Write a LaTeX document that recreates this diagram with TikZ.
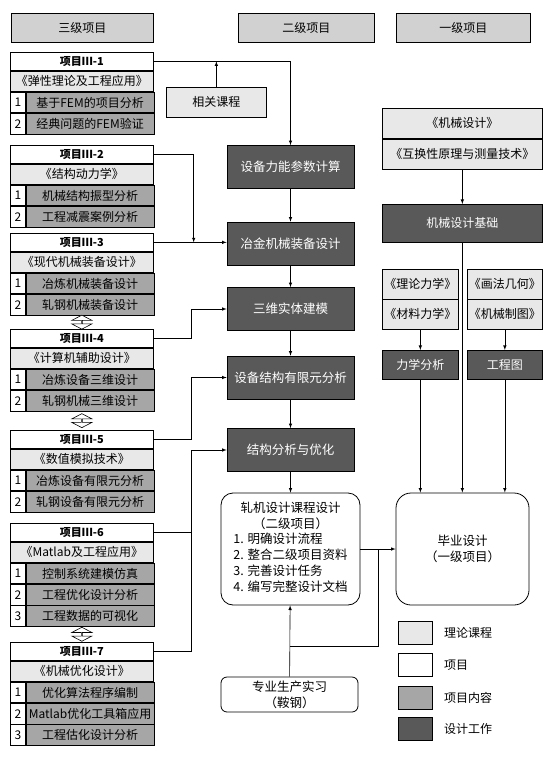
\documentclass[tikz,border=0pt]{standalone}
\usepackage{fontspec}
\setmainfont{Noto Sans CJK SC}
\usetikzlibrary{positioning,calc,shapes.arrows}

% one project block: title row and course row, then numbered rows
\newcommand{\projtop}[4]{%
  \node[ptitle] (#1t) at (10,#2) {#3};
  \node[course] (#1c) at (#1t.south west) {#4};}
\newcommand{\projrow}[4]{%
  \node[num] (#1n) at (#2.south west) {#3};
  \node[item] (#1) at (#1n.north east) {#4};}

\begin{document}
\begin{tikzpicture}[x=1pt, y=-1pt, font=\fontsize{12}{14}\selectfont,
  cell/.style={draw, line width=0.7pt, inner sep=1pt, anchor=north west},
  head/.style={cell, fill=black!18, minimum height=29pt},
  ptitle/.style={cell, fill=white, minimum width=143pt, minimum height=18pt, font=\fontsize{11}{12}\selectfont\bfseries},
  course/.style={cell, fill=black!9, minimum width=143pt, minimum height=20.5pt},
  num/.style={cell, fill=white, minimum width=15pt, minimum height=20.5pt},
  item/.style={cell, fill=black!35, minimum width=128pt, minimum height=20.5pt},
  lesson/.style={cell, fill=black!9, minimum height=29.5pt},
  work/.style={draw, line width=0.7pt, fill=black!65, text=white, minimum width=127pt, minimum height=43pt, font=\fontsize{12.5}{15}\selectfont},
  workr/.style={cell, fill=black!65, text=white},
  proj/.style={draw, line width=0.8pt, fill=white, align=center, font=\fontsize{12.5}{16}\selectfont},
  dbl/.style={double arrow, draw, fill=white, line width=0.6pt, shape border rotate=90, minimum height=14pt, minimum width=20pt,
    double arrow head extend=6pt, double arrow tip angle=125, inner sep=0pt},
  key/.style={cell, minimum width=34pt, minimum height=23pt},
  arr/.style={-latex, line width=0.6pt},
  ln/.style={line width=0.6pt}]
\useasboundingbox (0,0) rectangle (549,757);

% column heads
\node[head, minimum width=142pt] (h3) at (11,13) {三级项目};
\node[head, minimum width=136pt] (h2) at (238,13) {二级项目};
\node[head, minimum width=134pt] (h1) at (396,13) {一级项目};

% third level projects
\projtop{p1}{52}{项目Ⅲ-1}{《弹性理论及工程应用》}
\projrow{p1a}{p1c}{1}{基于FEM的项目分析}
\projrow{p1b}{p1an}{2}{经典问题的FEM验证}
\projtop{p2}{145}{项目Ⅲ-2}{《结构动力学》}
\projrow{p2a}{p2c}{1}{机械结构振型分析}
\projrow{p2b}{p2an}{2}{工程减震案例分析}
\projtop{p3}{233}{项目Ⅲ-3}{《现代机械装备设计》}
\projrow{p3a}{p3c}{1}{冶炼机械装备设计}
\projrow{p3b}{p3an}{2}{轧钢机械装备设计}
\projtop{p4}{329}{项目Ⅲ-4}{《计算机辅助设计》}
\projrow{p4a}{p4c}{1}{冶炼设备三维设计}
\projrow{p4b}{p4an}{2}{轧钢机械三维设计}
\projtop{p5}{430}{项目Ⅲ-5}{《数值模拟技术》}
\projrow{p5a}{p5c}{1}{冶炼设备有限元分析}
\projrow{p5b}{p5an}{2}{轧钢设备有限元分析}
\projtop{p6}{523}{项目Ⅲ-6}{《Matlab及工程应用》}
\projrow{p6a}{p6c}{1}{控制系统建模仿真}
\projrow{p6b}{p6an}{2}{工程优化设计分析}
\projrow{p6c}{p6bn}{3}{工程数据的可视化}
\projtop{p7}{642}{项目Ⅲ-7}{《机械优化设计》}
\projrow{p7a}{p7c}{1}{优化算法程序编制}
\projrow{p7b}{p7an}{2}{Matlab优化工具箱应用}
\projrow{p7c}{p7bn}{3}{工程估化设计分析}

\node[dbl] (d34) at ($(p3bn.south -| p3t.south)!0.5!(p4t.north)$) {};
\node[dbl] (d45) at ($(p4bn.south -| p4t.south)!0.5!(p5t.north)$) {};
\node[dbl] (d67) at ($(p6cn.south -| p6t.south)!0.5!(p7t.north)$) {};

% second level
\node[cell, fill=black!9, minimum width=100pt, minimum height=30pt] (rel) at (166,87) {相关课程};
\node[work] (w1) at (290.5,167) {设备力能参数计算};
\node[work] (w2) at (290.5,243.5) {冶金机械装备设计};
\node[work] (w3) at (290.5,309) {三维实体建模};
\node[work] (w4) at (290.5,377.5) {设备结构有限元分析};
\node[work] (w5) at (290.5,450) {结构分析与优化};
\node[proj, rounded corners=12pt, minimum width=139pt, minimum height=112pt] (zj) at (290.5,549)
  {轧机设计课程设计\\（二级项目）\\[2pt]
   \begin{tabular}{@{}l@{}}1. 明确设计流程\\2. 整合二级项目资料\\3. 完善设计任务\\4. 编写完整设计文档\end{tabular}};
\node[proj, rounded corners=6pt, minimum width=137pt, minimum height=35pt] (sx) at (289.5,694.5) {专业生产实习\\（鞍钢）};

% first level
\node[lesson, minimum width=160pt, minimum height=30pt] (c1) at (382,108) {《机械设计》};
\node[lesson, minimum width=160pt, minimum height=30pt] (c2) at (c1.south west) {《互换性原理与测量技术》};
\node[workr, minimum width=160pt, minimum height=38pt] (jc) at (382,204) {机械设计基础};
\node[lesson, minimum width=76pt] (c3) at (382,269) {《理论力学》};
\node[lesson, minimum width=76pt] (c4) at (c3.south west) {《材料力学》};
\node[lesson, minimum width=75pt] (c5) at (467,269) {《画法几何》};
\node[lesson, minimum width=75pt] (c6) at (c5.south west) {《机械制图》};
\node[workr, minimum width=76pt, minimum height=29pt] (lx) at (382,350) {力学分析};
\node[workr, minimum width=75pt, minimum height=29pt] (gc) at (467,350) {工程图};
\node[proj, rounded corners=15pt, minimum width=133pt, minimum height=112pt] (bs) at (462.5,549) {毕业设计\\（一级项目）};

% legend
\node[key, fill=black!9] (k1) at (398,621) {};
\node[key, fill=white] (k2) at (398,653) {};
\node[key, fill=black!35] (k3) at (398,686) {};
\node[key, fill=black!65] (k4) at (398,717) {};
\node[right=8pt of k1] (t1) {理论课程};
\node[right=8pt of k2] (t2) {项目};
\node[right=8pt of k3] (t3) {项目内容};
\node[right=8pt of k4] (t4) {设计工作};

% connectors
\draw[arr] (p1t.east) -| (w1.north);
\draw[arr] (rel.north) -- (rel.north |- p1t.east);
\coordinate (j3) at ($(p3t.east)+(40,0)$);
\draw[arr] (p2t.east) -| (j3);
\draw[arr] (p3t.east) -- (p3t.east -| w2.west);
\draw[arr] (p4t.east) -- ++(38,0) |- (w3.west);
\draw[arr] (p5t.east) -- ++(38,0) |- (w4.west);
\coordinate (j7) at ($(p7t.east)+(38,0)$);
\draw[arr] (p7t.east) -- (j7) |- (w5.west);
\draw[ln] (p6t.east) -- (p6t.east -| j7);
\draw[arr] (w1) -- (w2);
\draw[arr] (w2) -- (w3);
\draw[arr] (w3) -- (w4);
\draw[arr] (w4) -- (w5);
\draw[arr] (w5) -- (zj);
\draw[arr] (sx) -- (zj);
\coordinate (k) at ($(sx.north)!0.42!(zj.south)$);
\draw[ln] (k) -| ($(zj.east)+(18,0)$);
\draw[arr] (zj.east) -- (bs.west);
\draw[arr] (c2) -- (jc);
\draw[arr] (jc.south) -- (jc.south |- bs.north);
\draw[arr] (c4) -- (lx);
\draw[arr] (c6) -- (gc);
\draw[arr] (lx.south) -- (lx.south |- bs.north);
\draw[arr] (gc.south) -- (gc.south |- bs.north);
\end{tikzpicture}
\end{document}
